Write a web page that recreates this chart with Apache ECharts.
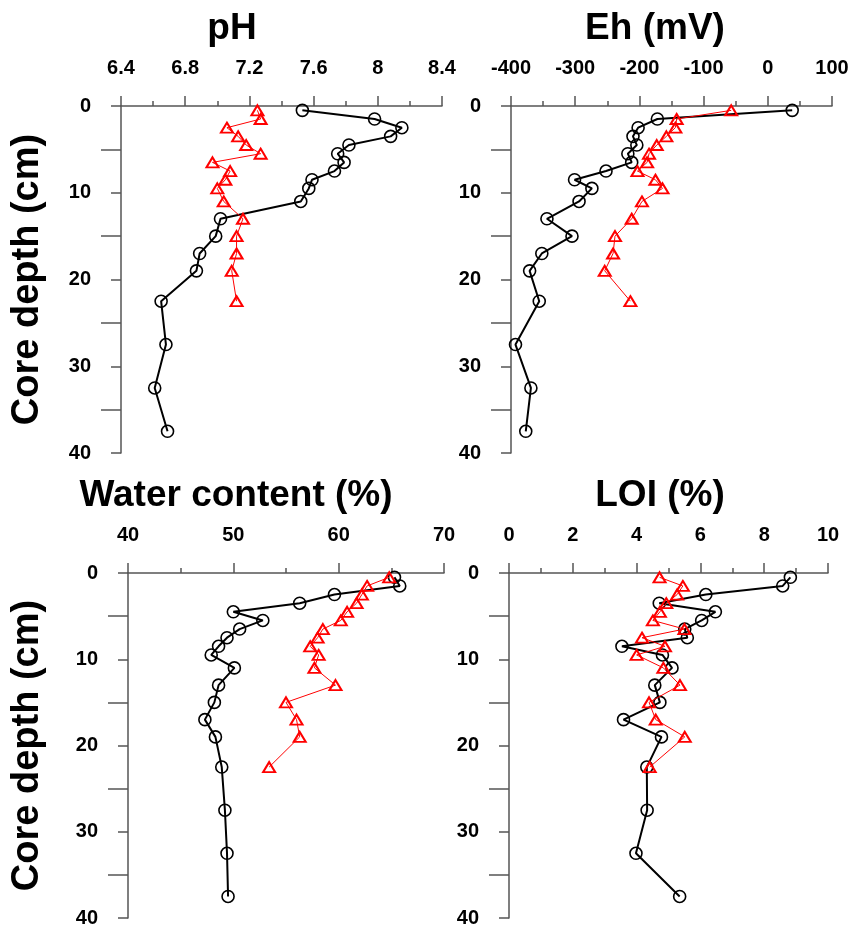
<!DOCTYPE html>
<html>
<head>
<meta charset="utf-8">
<script src="https://cdn.jsdelivr.net/npm/echarts@6/dist/echarts.min.js"></script>
<style>
  html, body { margin: 0; padding: 0; background: #fff; }
  #chart { width: 853px; height: 928px; }
</style>
</head>
<body>
<div id="chart"></div>
<script>
// depth of each slice (cm), black = first core, red = second core (shorter)
const depth = [0.5, 1.5, 2.5, 3.5, 4.5, 5.5, 6.5, 7.5, 8.5, 9.5, 11, 13, 15, 17, 19, 22.5, 27.5, 32.5, 37.5]
const depthRed = [0.5, 1.5, 2.5, 3.5, 4.5, 5.5, 6.5, 7.5, 8.5, 9.5, 11, 13, 15, 17, 19, 22.5]

const phBlack = [7.53, 7.98, 8.15, 8.08, 7.82, 7.75, 7.79, 7.73, 7.59, 7.57, 7.52, 7.02, 6.99, 6.89, 6.87, 6.65, 6.68, 6.61, 6.69]
const phRed = [7.25, 7.27, 7.06, 7.13, 7.18, 7.27, 6.97, 7.08, 7.05, 7.00, 7.04, 7.16, 7.12, 7.12, 7.09, 7.12]

const ehBlack = [38, -172, -202, -210, -204, -218, -212, -252, -301, -274, -294, -344, -305, -352, -371, -356, -393, -369, -377]
const ehRed = [-57, -142, -144, -158, -173, -185, -188, -203, -175, -164, -196, -212, -238, -241, -254, -214]

const waterBlack = [65.3, 65.8, 59.6, 56.3, 50.0, 52.8, 50.6, 49.4, 48.6, 47.9, 50.1, 48.6, 48.2, 47.3, 48.3, 48.9, 49.2, 49.4, 49.5]
const waterRed = [64.8, 62.7, 62.2, 61.7, 60.8, 60.2, 58.5, 58.0, 57.3, 58.1, 57.7, 59.7, 55.0, 56.0, 56.3, 53.4]

const loiBlack = [8.82, 8.58, 6.17, 4.71, 6.47, 6.04, 5.51, 5.59, 3.54, 4.81, 5.11, 4.57, 4.73, 3.59, 4.78, 4.32, 4.33, 3.98, 5.35]
const loiRed = [4.72, 5.45, 5.27, 4.93, 4.73, 4.51, 5.50, 4.17, 4.89, 4.00, 4.84, 5.36, 4.39, 4.60, 5.51, 4.41]

const panels = [
  { title: 'pH', min: 6.4, max: 8.4, interval: 0.4, black: phBlack, red: phRed },
  { title: 'Eh (mV)', min: -400, max: 100, interval: 100, black: ehBlack, red: ehRed },
  { title: 'Water content (%)', min: 40, max: 70, interval: 10, black: waterBlack, red: waterRed },
  { title: 'LOI (%)', min: 0, max: 10, interval: 2, black: loiBlack, red: loiRed },
]

const FONT = "'Liberation Sans', Arial, sans-serif"
const AXIS_COLOR = '#555'

const grids = [
  { left: 121, top: 106, width: 321, height: 347 },
  { left: 511, top: 106, width: 321, height: 347 },
  { left: 128, top: 573, width: 316, height: 348 },
  { left: 509, top: 573, width: 319, height: 348 },
]
const titlePos = [[232, 29], [655, 29], [236, 496], [660, 496]]

const pair = (xs, ys) => xs.map((v, i) => [v, ys[i]])

const chart = echarts.init(document.getElementById('chart'))
chart.setOption({
  animation: false,
  textStyle: { fontFamily: FONT },
  graphic: panels.map((p, i) => ({
    type: 'text',
    x: titlePos[i][0],
    y: titlePos[i][1],
    style: {
      text: p.title,
      font: `bold 37px ${FONT}`,
      fill: '#000',
      textAlign: 'center',
      textVerticalAlign: 'middle',
    },
  })),
  grid: grids,
  xAxis: panels.map((p, i) => ({
    type: 'value',
    gridIndex: i,
    position: 'top',
    min: p.min,
    max: p.max,
    interval: p.interval,
    splitLine: { show: false },
    axisLine: { show: true, onZero: false, lineStyle: { color: AXIS_COLOR, width: 1.5 } },
    axisTick: { show: true, length: 10, lineStyle: { color: AXIS_COLOR, width: 1.5 } },
    minorTick: { show: true, splitNumber: 2, length: 5, lineStyle: { color: AXIS_COLOR, width: 1.5 } },
    axisLabel: { margin: 28, color: '#000', fontSize: 20, fontWeight: 'bold', fontFamily: FONT },
  })),
  yAxis: panels.map((p, i) => ({
    type: 'value',
    gridIndex: i,
    inverse: true,
    min: 0,
    max: 40,
    interval: 10,
    name: i % 2 === 0 ? 'Core depth (cm)' : '',
    nameLocation: 'middle',
    nameRotate: 90,
    nameGap: i === 0 ? 74 : 81,
    nameTextStyle: { color: '#000', fontSize: 38, fontWeight: 'bold', fontFamily: FONT },
    splitLine: { show: false },
    axisLine: { show: true, onZero: false, lineStyle: { color: AXIS_COLOR, width: 1.5 } },
    axisTick: { show: true, length: 10, lineStyle: { color: AXIS_COLOR, width: 1.5 } },
    minorTick: { show: true, splitNumber: 2, length: 20, lineStyle: { color: AXIS_COLOR, width: 1.5 } },
    axisLabel: { margin: 30, color: '#000', fontSize: 20, fontWeight: 'bold', fontFamily: FONT },
  })),
  series: panels.flatMap((p, i) => [
    {
      type: 'line',
      xAxisIndex: i,
      yAxisIndex: i,
      data: pair(p.black, depth),
      symbol: 'circle',
      symbolSize: 12,
      lineStyle: { color: '#000', width: 2 },
      itemStyle: { color: 'rgba(0,0,0,0)', borderColor: '#000', borderWidth: 1.6 },
      z: 2,
    },
    {
      type: 'line',
      xAxisIndex: i,
      yAxisIndex: i,
      data: pair(p.red, depthRed),
      symbol: 'triangle',
      symbolSize: [12, 10],
      lineStyle: { color: '#ff0000', width: 1 },
      itemStyle: { color: 'rgba(0,0,0,0)', borderColor: '#ff0000', borderWidth: 2 },
      z: 3,
    },
  ]),
})
window.addEventListener('resize', () => chart.resize())
</script>
</body>
</html>
